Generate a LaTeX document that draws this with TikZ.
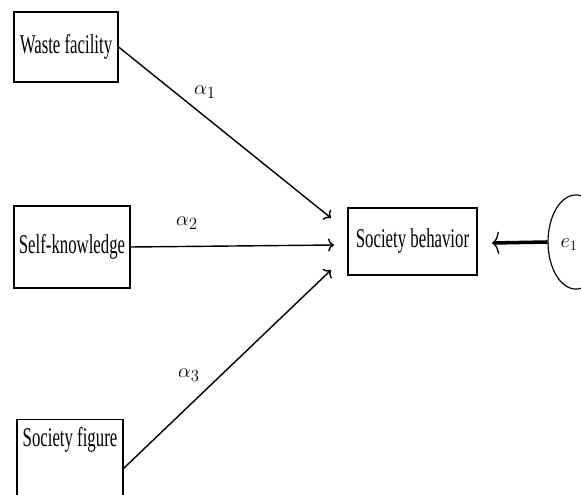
\documentclass[tikz,border=0pt]{standalone}
\usepackage{fontspec}
\setmainfont{Liberation Serif}
\usetikzlibrary{arrows.meta,shapes.geometric}
\newcommand{\narrow}[1]{\scalebox{0.62}[1]{#1}}
\tikzset{
  box/.style={draw,line width=1pt,inner sep=0pt,font=\fontsize{23}{26}\selectfont},
  coef/.style={font=\fontsize{19}{22}\selectfont},
}
\begin{document}
\begin{tikzpicture}[>={To[length=5pt,width=11pt]},x=0.85pt,y=-0.85pt]
    \useasboundingbox (0,0) rectangle (581,495);
    % predictors
    \node[box,minimum width=88.4pt,minimum height=59.5pt] (waste) at (66,47) {\narrow{Waste facility}};
    \node[box,minimum width=98.6pt,minimum height=69.7pt] (self) at (72,247) {\narrow{Self-knowledge}};
    \node[box,anchor=north,minimum width=90.1pt,inner ysep=8pt,text height=15pt,text depth=66pt] (figure) at (70,419) {\narrow{Society figure}};
    % outcome and error term
    \node[box,minimum width=109.7pt,minimum height=57pt] (behav) at (412.5,241.5) {\narrow{Society behavior}};
    \node[ellipse,draw,line width=1pt,minimum width=47.6pt,minimum height=80pt,inner sep=0pt] (err) at (576,242) {};
    \node (e1) at (569,245) {\fontsize{18}{20}\selectfont$e_1$};
    \coordinate (tipA) at (331,218);
    \coordinate (tipB) at (334,245);
    \coordinate (tipC) at (331,270);
    \coordinate (tipE) at (492,243);
    \draw[->,line width=1.2pt] (waste.east) -- (tipA);
    \draw[->,line width=1.2pt] (self.east) -- (tipB);
    \draw[->,line width=1.2pt] ([yshift=7pt]figure.east) -- (tipC);
    \draw[-{To[length=6pt,width=19pt,line width=1.1pt]},line width=3pt] (err.west) -- (tipE);
    \node[coef] (a1) at (205,92) {$\alpha_1$};
    \node[coef] (a2) at (187,223) {$\alpha_2$};
    \node[coef] (a3) at (189,375) {$\alpha_3$};
\end{tikzpicture}
\end{document}
